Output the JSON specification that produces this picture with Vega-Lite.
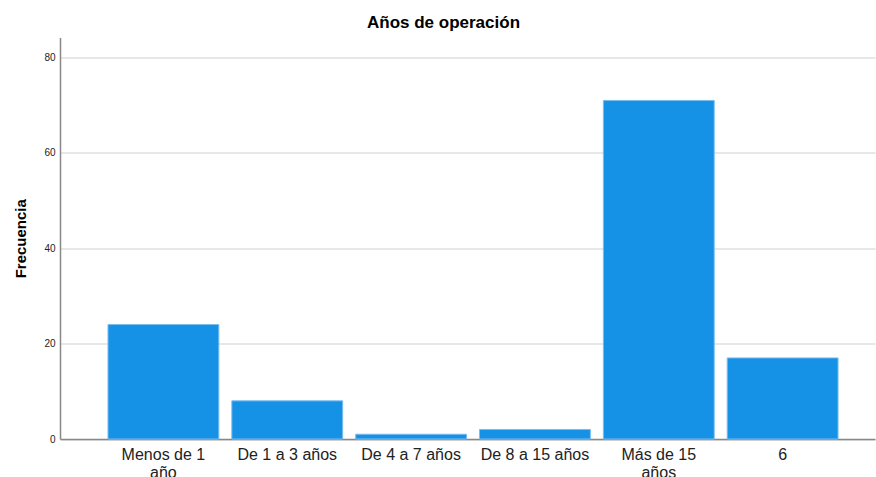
{
  "$schema": "https://vega.github.io/schema/vega-lite/v6.json",
  "width": 815,
  "height": 401.5,
  "autosize": "none",
  "padding": {"left": 60, "top": 37.5, "right": 1, "bottom": 38},
  "title": {
    "text": "Años de operación",
    "font": "Liberation Sans",
    "fontSize": 17,
    "fontWeight": "bold",
    "color": "#000000",
    "anchor": "middle",
    "offset": 6,
    "dx": -24
  },
  "data": {
    "values": [
      {"categoria": "Menos de 1 año", "frecuencia": 24},
      {"categoria": "De 1 a 3 años", "frecuencia": 8},
      {"categoria": "De 4 a 7 años", "frecuencia": 1},
      {"categoria": "De 8 a 15 años", "frecuencia": 2},
      {"categoria": "Más de 15 años", "frecuencia": 71},
      {"categoria": "6", "frecuencia": 17}
    ]
  },
  "mark": {"type": "bar", "color": "#1591E6", "stroke": "#7ABDF0", "strokeWidth": 1},
  "encoding": {
    "x": {
      "field": "categoria",
      "type": "nominal",
      "sort": null,
      "scale": {"paddingInner": 0.105, "paddingOuter": 0.343, "align": 0.565},
      "axis": {
        "title": null,
        "labelAngle": 0,
        "ticks": false,
        "tickSize": 0,
        "labelFont": "Liberation Sans",
        "labelFontSize": 16,
        "labelColor": "#222222",
        "labelPadding": 7,
        "labelLineHeight": 18,
        "labelLimit": 200,
        "labelExpr": "datum.label == 'Menos de 1 año' ? ['Menos de 1', 'año'] : datum.label == 'Más de 15 años' ? ['Más de 15', 'años'] : datum.label",
        "domainColor": "#888888",
        "domainWidth": 1.5,
        "grid": false
      }
    },
    "y": {
      "field": "frecuencia",
      "type": "quantitative",
      "scale": {"domain": [0, 84.2], "nice": false, "zero": true},
      "axis": {
        "title": "Frecuencia",
        "titleFont": "Liberation Sans",
        "titleFontSize": 15,
        "titleFontWeight": "bold",
        "titleColor": "#000000",
        "titlePadding": 15,
        "values": [0, 20, 40, 60, 80],
        "labelFont": "Liberation Sans",
        "labelFontSize": 10,
        "labelColor": "#222222",
        "labelPadding": 5,
        "ticks": false,
        "tickSize": 0,
        "grid": true,
        "gridColor": "#d0d0d0",
        "gridWidth": 1.2,
        "domainColor": "#888888",
        "domainWidth": 1.5
      }
    }
  },
  "config": {"view": {"stroke": null}}
}
